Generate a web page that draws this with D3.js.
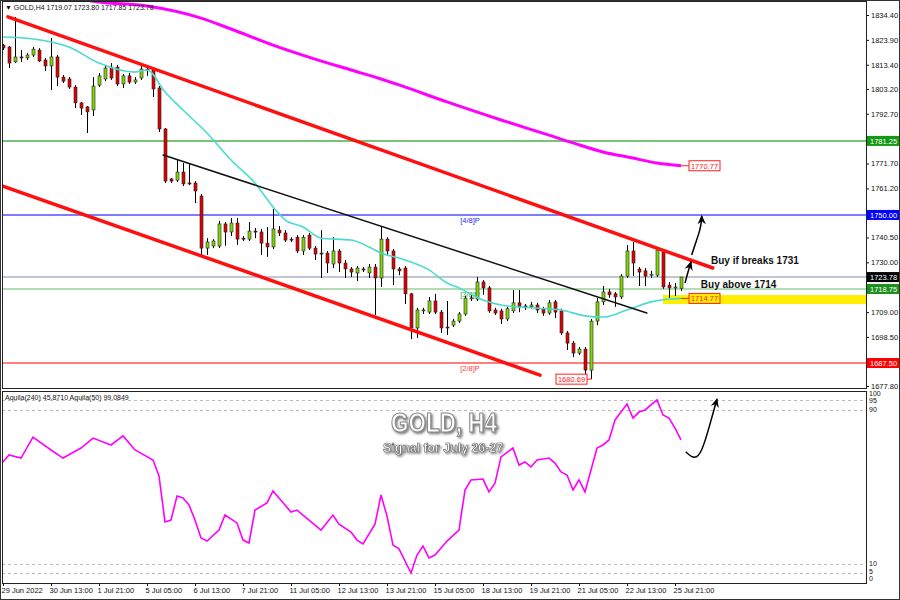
<!DOCTYPE html>
<html><head><meta charset="utf-8">
<script src="https://cdn.jsdelivr.net/npm/d3@7"></script>
<style>body{margin:0;background:#fff}svg{display:block}text{font-family:"Liberation Sans",Arial,sans-serif}</style>
</head><body><svg id="c" width="900" height="600"></svg>
<script>
// ---------- DATA ----------
const open=[1821.7,1820.9,1814.6,1816.7,1816.3,1817.5,1819.6,1815.4,1812.9,1816.7,
1808.2,1807.4,1804.0,1797.3,1795.6,1794.3,1804.8,1807.4,1812.4,1812.4,
1805.3,1808.7,1806.1,1807.8,1811.6,1811.2,1803.6,1786.3,1765.2,1764.7,
1768.1,1763.5,1763.5,1758.0,1736.0,1736.9,1736.9,1746.2,1742.8,1746.6,
1740.2,1739.8,1743.2,1742.8,1738.1,1736.5,1743.6,1742.4,1739.8,1740.6,
1734.8,1741.5,1736.0,1733.9,1733.9,1729.3,1734.8,1729.7,1727.2,1725.5,
1727.2,1725.5,1728.0,1723.4,1739.8,1734.8,1727.2,1727.6,1716.7,1702.3,
1709.5,1709.0,1713.7,1709.0,1702.7,1703.5,1705.2,1708.2,1714.9,1714.5,
1721.7,1719.2,1709.9,1709.5,1706.1,1709.5,1712.9,1711.6,1711.2,1712.0,
1710.4,1708.6,1713.3,1709.5,1700.2,1695.9,1691.7,1693.4,1684.5,1705.2,
1713.3,1717.5,1716.7,1715.4,1724.2,1734.8,1727.2,1726.4,1724.6,1724.6,
1734.4,1720.4,1719.2,1719.07];
const high=[1822.2,1821.3,1833.6,1819.6,1818.4,1820.9,1820.4,1816.3,1824.7,1817.5,
1809.1,1808.2,1804.8,1797.7,1796.0,1808.2,1809.9,1813.3,1814.1,1813.3,
1809.5,1809.9,1808.2,1812.9,1812.4,1812.0,1804.4,1786.7,1765.6,1773.2,
1771.9,1771.9,1764.3,1758.8,1740.2,1739.8,1747.5,1747.0,1748.7,1748.7,
1741.1,1747.0,1744.5,1744.1,1744.9,1752.5,1745.3,1743.6,1740.6,1741.5,
1741.5,1742.4,1736.9,1743.6,1734.8,1740.6,1735.6,1731.0,1728.0,1728.5,
1728.0,1729.3,1729.3,1744.9,1740.6,1735.6,1728.0,1728.5,1717.1,1710.8,
1710.8,1715.4,1716.7,1709.9,1713.7,1706.1,1709.0,1715.8,1716.3,1723.8,
1722.5,1720.0,1710.8,1710.4,1711.2,1718.3,1718.3,1712.4,1713.3,1712.9,
1711.2,1714.1,1714.1,1710.4,1701.0,1696.8,1694.3,1694.3,1706.1,1714.9,
1720.0,1718.8,1717.5,1725.0,1737.3,1738.6,1728.0,1727.6,1726.4,1736.0,
1735.6,1721.7,1721.3,1723.80];
const low=[1819.6,1812.0,1814.1,1814.6,1815.4,1816.7,1814.6,1810.8,1802.7,1804.4,
1805.7,1803.2,1795.1,1792.2,1784.6,1791.8,1804.0,1806.5,1807.0,1804.4,
1803.6,1805.3,1805.3,1807.0,1808.7,1799.8,1785.0,1763.5,1763.5,1763.9,
1762.2,1762.6,1755.0,1732.3,1733.1,1736.0,1736.0,1737.0,1741.1,1737.3,
1739.0,1739.0,1740.2,1733.1,1732.3,1735.6,1741.1,1738.6,1738.6,1733.9,
1733.1,1735.2,1731.0,1723.4,1725.5,1727.6,1725.9,1723.4,1723.8,1722.1,
1725.9,1723.4,1707.8,1719.6,1733.1,1720.4,1724.6,1712.4,1697.6,1698.1,
1708.2,1708.2,1708.2,1700.2,1699.3,1702.7,1704.4,1707.4,1713.7,1713.7,
1716.3,1708.7,1707.8,1704.0,1705.2,1708.6,1709.0,1709.9,1710.4,1708.6,
1707.4,1707.8,1706.5,1699.3,1693.0,1690.0,1690.9,1680.69,1680.7,1703.5,
1712.0,1715.0,1711.2,1714.5,1723.4,1724.2,1720.0,1720.0,1723.4,1723.8,
1718.8,1715.0,1715.8,1717.85];
const close=[1820.5,1814.1,1816.7,1816.5,1817.5,1820.0,1815.0,1812.9,1816.7,1808.2,
1806.5,1804.0,1797.3,1795.1,1793.5,1804.4,1808.7,1812.0,1807.8,1805.3,
1808.7,1806.1,1807.0,1811.6,1811.2,1803.2,1786.3,1764.3,1764.3,1768.1,
1763.1,1763.1,1760.1,1736.0,1738.6,1739.0,1746.2,1742.8,1746.6,1739.8,
1739.8,1743.2,1743.0,1738.1,1736.5,1744.1,1742.4,1739.4,1739.4,1734.8,
1740.6,1736.0,1733.5,1733.5,1729.7,1734.8,1729.7,1727.2,1725.9,1727.6,
1726.8,1728.0,1723.4,1739.8,1734.8,1727.2,1726.4,1716.7,1702.3,1709.9,
1709.9,1713.7,1709.0,1702.3,1702.3,1705.2,1708.2,1714.9,1715.0,1721.7,
1719.2,1709.5,1708.6,1706.1,1710.4,1712.9,1711.2,1710.8,1712.0,1709.9,
1708.6,1712.9,1709.0,1700.2,1695.9,1691.7,1693.4,1684.5,1705.2,1713.3,
1717.5,1716.3,1715.4,1724.2,1734.8,1729.7,1725.9,1724.2,1725.0,1735.2,
1719.6,1719.2,1719.6,1723.78];

// slow moving average (magenta), read at sample bars
const maSlowBars=[8,16,24,33,38,45,52,58,63,66,74,83,91,95,100,105,109,113];
const maSlowVals=[1843.5,1839.9,1838.2,1833.1,1828.5,1821.7,1815.8,1811.2,1807.4,1804.9,1797.7,1790.1,1783.7,1780.4,1776.6,1774.0,1771.9,1770.77];
// fast moving average (turquoise)
const maFastBars=[0,5,11,16,22,24,27,30,34,38,42,45,47,50,53,58,61,63,66,71,74,76,80,83,88,93,97,100,104,108,111,113];
const maFastVals=[1825.1,1824.3,1820.9,1814.1,1810.3,1811.2,1801.9,1794.3,1784.6,1773.2,1763.5,1753.4,1747.9,1744.9,1740.2,1739.4,1736.5,1733.9,1731.8,1726.8,1721.3,1719.2,1714.1,1712.0,1710.8,1709.9,1707.4,1706.9,1709.9,1713.3,1714.5,1714.77];

// oscillator (lower panel)
const oscBars=[0,1,3,5,8,10,13,15,18,20,22,25,26,27,28,29,30,31,32,33,34,36,37,39,40,41,42,44,45,47,48,49,51,52,53,55,56,58,59,60,62,63,64,65,66,68,69,70,71,72,74,76,77,78,80,81,82,83,85,86,87,88,89,91,92,93,94,95,96,97,98,99,100,101,102,104,105,106,107,109,110,111,112,113];
const oscVals=[62.9,66.5,64.9,75.8,69.1,64.9,70.1,75.3,71.7,76.4,69.1,63.9,55.6,31.7,32.7,45.2,44.2,40.5,32.7,23.4,21.8,27.5,35.3,31.2,22.3,20.8,37.9,41.6,47.8,40.5,36.9,37.9,32.7,30.1,27.5,35.3,30.6,26.5,22.3,20.3,30.6,45.7,34.8,19.7,17.7,5.2,14.5,19.2,13.0,14.5,21.8,27.5,48.3,53.5,54.0,47.3,51.9,65.5,70.1,61.3,62.9,60.3,63.9,64.9,62.3,57.7,56.1,48.3,53.5,47.3,58.7,70.1,71.7,74.3,84.7,93.0,85.7,88.8,89.9,95.1,87.3,85.7,80.5,74.3];

const priceTicks=[1834.40,1823.90,1813.40,1803.20,1792.70,1771.70,1761.20,1740.50,1730.00,1709.00,1698.50,1677.80];
const levelPrices=[1781.25,1750.00,1723.78,1718.75,1687.50];
const levelNames=["","[4/8]P","","[3/8]P","[2/8]P"];
const xTickBars=[0,8,16,24,32,40,48,56,64,72,80,88,96,104,112];
const xTickLabels=["29 Jun 2022","30 Jun 13:00","1 Jul 21:00","5 Jul 05:00","6 Jul 13:00","7 Jul 21:00","11 Jul 05:00","12 Jul 13:00","13 Jul 21:00","15 Jul 05:00","18 Jul 13:00","19 Jul 21:00","21 Jul 05:00","22 Jul 13:00","25 Jul 21:00"];
const oscTicks=[100,95,90,10,5,0];
const oscDashed=[95,90,10,5];
const upperChannel=[[0.83,1833.6],[118.3,1727.6]];
const lowerChannel=[[-0.5,1762.6],[89.5,1682.4]];
const blackTrend=[[26.7,1775.3],[107.3,1708.6]];
const zoneLow=1712.4, zoneHigh=1716.2, zoneStartBar=110;
const swingLowBar=97, swingLow=1680.69;
const arrowSmall=[[113.67,1721.3],[114.17,1726.0],[114.67,1730.2]];
const arrowBig=[[114.78,1733.1],[115.6,1739.4],[116.17,1743.6],[116.45,1747.9],[116.45,1749.6]];
const arrowOsc=[[113.8,68.1],[115.3,63.9],[116.5,68.1],[117.8,82.1],[119,95.6]];
const notes=[{text:"Buy if breaks 1731",bar:118,price:1729.3},{text:"Buy above  1714",bar:116.3,price:1719.3}];

// ---------- LAYOUT ----------
const W=900,H=600, L=2, R=866, mainTop=1, mainBot=388, oscTop=391, oscBot=583;
const svg=d3.select("#c");
const x=d3.scaleLinear().domain([0,113]).range([3,681]);
const y=d3.scaleLinear().domain([1677.8,1834.4]).range([386,15]);
const yo=d3.scaleLinear().domain([0,100]).range([583,390.5]);
const fmt=d3.format(".2f");

const defs=svg.append("defs");
defs.append("clipPath").attr("id","cm").append("rect").attr("x",L).attr("y",mainTop).attr("width",R-L).attr("height",mainBot-mainTop);
defs.append("clipPath").attr("id","co").append("rect").attr("x",L).attr("y",oscTop).attr("width",R-L).attr("height",oscBot-oscTop);
defs.append("marker").attr("id","ah").attr("viewBox","0 0 10 10").attr("refX",8).attr("refY",5)
  .attr("markerWidth",7).attr("markerHeight",7).attr("orient","auto-start-reverse")
  .append("path").attr("d","M0,1 L9,5 L0,9 L3,5 Z").attr("fill","#000");
const f=defs.append("filter").attr("id","sh").attr("x","-10%").attr("y","-30%").attr("width","130%").attr("height","170%");
f.append("feDropShadow").attr("dx",1.5).attr("dy",1.5).attr("stdDeviation",1).attr("flood-color","#555").attr("flood-opacity",0.8);

svg.append("rect").attr("width",W).attr("height",H).attr("fill","#fff");

// main panel
const m=svg.append("g");
const mc=m.append("g").attr("clip-path","url(#cm)");
const levelColors=["#1f9a1f","#2424ff","#b8c0cf","#80c880","#ff2a2a"];
const levelBox=["#139a13","#0000ff","#000000","#1d8f1d","#ff0000"];
const levelText=["","#2b2bff","","#3aa83a","#ff3b3b"];

// yellow zone
mc.append("rect").attr("x",x(zoneStartBar)).attr("width",R-x(zoneStartBar))
  .attr("y",y(zoneHigh)).attr("height",y(zoneLow)-y(zoneHigh)).attr("fill","#ffee00");

const lv=mc.append("g");
levelPrices.forEach((p,i)=>{
  lv.append("rect").attr("x",L).attr("width",R-L).attr("y",2*Math.floor(y(p)/2)).attr("height",2)
    .style("fill",levelColors[i]).style("opacity",i===2?0.9:0.6);
  if(levelNames[i]) lv.append("text").attr("x",x(76.2)).attr("y",y(p)+8).attr("font-size",7.5)
    .style("fill",levelText[i]).text(levelNames[i]);
});

// candles
const idx=d3.range(open.length);
mc.append("g").selectAll("line").data(idx).join("line")
  .attr("x1",i=>x(i)+0.5).attr("x2",i=>x(i)+0.5).attr("y1",i=>y(high[i])).attr("y2",i=>y(low[i]))
  .attr("stroke","#000").attr("stroke-width",1);
mc.append("g").selectAll("rect").data(idx).join("rect")
  .attr("x",i=>x(i)-1).attr("width",3)
  .attr("y",i=>y(Math.max(open[i],close[i])))
  .attr("height",i=>Math.max(1,Math.abs(y(open[i])-y(close[i]))))
  .attr("fill",i=>close[i]>=open[i]?"#80d800":"#e00000")
  .attr("stroke","#222").attr("stroke-width",0.6);

// moving averages
const lineXY=(bars,vals)=>bars.map((b,i)=>[x(b),y(vals[i])]);
mc.append("path").attr("d",d3.line().curve(d3.curveMonotoneX)(lineXY(maFastBars,maFastVals)))
  .attr("fill","none").attr("stroke","#48dcd0").attr("stroke-width",1.6);
mc.append("path").attr("d",d3.line().curve(d3.curveMonotoneX)(lineXY(maSlowBars,maSlowVals)))
  .attr("fill","none").attr("stroke","#ff00ff").attr("stroke-width",3);

// trend lines
const seg=(pts,col,w)=>mc.append("line").attr("x1",x(pts[0][0])).attr("y1",y(pts[0][1]))
  .attr("x2",x(pts[1][0])).attr("y2",y(pts[1][1])).attr("stroke",col).attr("stroke-width",w).attr("stroke-linecap","round");
seg(upperChannel,"#ff1010",3.5);
seg(lowerChannel,"#ff1010",3.5);
seg(blackTrend,"#111",1.5);

// price labels (red boxes)
function redBox(bx,by,val,fill){
  const g=mc.append("g");
  g.append("rect").attr("x",bx).attr("y",by-5).attr("width",31).attr("height",10).attr("fill",fill).attr("stroke","#ff2020").attr("stroke-width",1);
  g.append("text").attr("x",bx+15.5).attr("y",by+3).attr("text-anchor","middle").attr("font-size",7.5).attr("fill","#ff2020").text(fmt(val));
}
const lastSlow=maSlowVals[maSlowVals.length-1], lastFast=maFastVals[maFastVals.length-1];
mc.append("line").attr("x1",x(113)).attr("x2",x(113)+8).attr("y1",y(lastSlow)).attr("y2",y(lastSlow)).attr("stroke","#ff2020");
redBox(x(113)+8,y(lastSlow),lastSlow,"#fff");
mc.append("line").attr("x1",x(113)).attr("x2",x(113)+8).attr("y1",y(lastFast)).attr("y2",y(lastFast)).attr("stroke","#ff2020");
redBox(x(113)+8,y(lastFast),lastFast,"#ffee00");
mc.append("line").attr("x1",x(swingLowBar+1)+0.5).attr("x2",x(swingLowBar)+1).attr("y1",y(swingLow)).attr("y2",y(swingLow)).attr("stroke","#ff2020");
redBox(x(swingLowBar)-29,y(swingLow),swingLow,"#fff");

// arrows
const ln=d3.line().curve(d3.curveBasis);
mc.append("path").attr("d",ln(arrowSmall.map(d=>[x(d[0]),y(d[1])]))).attr("fill","none").attr("stroke","#000").attr("stroke-width",1.5).attr("marker-end","url(#ah)");
mc.append("path").attr("d",ln(arrowBig.map(d=>[x(d[0]),y(d[1])]))).attr("fill","none").attr("stroke","#000").attr("stroke-width",1.5).attr("marker-end","url(#ah)");
notes.forEach(n=>mc.append("text").attr("x",x(n.bar)).attr("y",y(n.price)).attr("font-size",10).attr("font-weight","bold").attr("fill","#111").text(n.text));

// header
m.append("text").attr("x",5).attr("y",10).attr("font-size",7).attr("fill","#111")
  .text("\u25BC GOLD,H4  "+[open[113],high[113],low[113],close[113]].map(fmt).join(" "));

// right price axis
const ax=svg.append("g").attr("transform",`translate(${R},0)`)
  .call(d3.axisRight(y).tickValues(priceTicks).tickFormat(fmt).tickSize(3).tickPadding(2));
ax.select(".domain").remove();
ax.selectAll("text").attr("font-size",7.5).attr("font-family","Liberation Sans, Arial").attr("fill","#111");
ax.selectAll("line").attr("stroke","#111");
levelPrices.forEach((p,i)=>{
  svg.append("rect").attr("x",R+1).attr("y",y(p)-5).attr("width",32).attr("height",10).style("fill",levelBox[i]);
  svg.append("text").attr("x",R+4).attr("y",y(p)+3).attr("font-size",7.5).style("fill","#fff").text(fmt(p));
});

// oscillator panel
const oc=svg.append("g").attr("clip-path","url(#co)");
oscDashed.forEach(v=>oc.append("line").attr("x1",L).attr("x2",R).attr("y1",Math.round(yo(v))+0.5).attr("y2",Math.round(yo(v))+0.5)
  .attr("stroke","#bbb").attr("stroke-dasharray","3,3"));
oc.append("path").attr("d",d3.line()(oscBars.map((b,i)=>[x(b),yo(oscVals[i])])))
  .attr("fill","none").attr("stroke","#ff00ff").attr("stroke-width",1.6);
oc.append("path").attr("d",ln(arrowOsc.map(d=>[x(d[0]),yo(d[1])]))).attr("fill","none").attr("stroke","#000").attr("stroke-width",1.5).attr("marker-end","url(#ah)");
svg.append("text").attr("x",5).attr("y",400).attr("font-size",7).attr("fill","#111").text("Aquila(240) 45.8710  Aquila(50) 99.0849");
const oscLabelY={100:396,95:403,90:412,10:566,5:574,0:581};
oscTicks.forEach(v=>svg.append("text").attr("x",R+3).attr("y",oscLabelY[v]).attr("font-size",7).attr("fill","#111").text(v));

// watermark
svg.append("text").attr("x",444).attr("y",432).attr("text-anchor","middle").attr("font-size",27).attr("font-weight","bold")
  .attr("textLength",106).attr("lengthAdjust","spacingAndGlyphs")
  .attr("fill","#fff").attr("stroke","#8a8a8a").attr("stroke-width",1.2).attr("filter","url(#sh)").text("GOLD, H4");
svg.append("text").attr("x",443).attr("y",452).attr("text-anchor","middle").attr("font-size",12).attr("font-weight","bold")
  .attr("textLength",120).attr("lengthAdjust","spacingAndGlyphs")
  .attr("fill","#fff").attr("stroke","#666").attr("stroke-width",0.6).attr("filter","url(#sh)").text("Signal for July 26-27");

// x axis
const xa=svg.append("g").attr("transform",`translate(0,${oscBot})`)
  .call(d3.axisBottom(x).tickValues(xTickBars).tickFormat((d,i)=>xTickLabels[i]).tickSize(3).tickPadding(2));
xa.select(".domain").remove();
xa.selectAll("text").attr("text-anchor","start").attr("dx",-2).attr("font-size",7.5).attr("font-family","Liberation Sans, Arial").attr("fill","#111");
xa.selectAll("line").attr("stroke","#111");

// frames
svg.append("rect").attr("x",L+0.5).attr("y",mainTop+0.5).attr("width",R-L).attr("height",mainBot-mainTop).attr("fill","none").attr("stroke","#222");
svg.append("rect").attr("x",L+0.5).attr("y",oscTop+0.5).attr("width",R-L).attr("height",oscBot-oscTop).attr("fill","none").attr("stroke","#222");
svg.append("rect").attr("x",0.5).attr("y",0.5).attr("width",W-1).attr("height",H-1).attr("fill","none").attr("stroke","#333");
</script></body></html>
